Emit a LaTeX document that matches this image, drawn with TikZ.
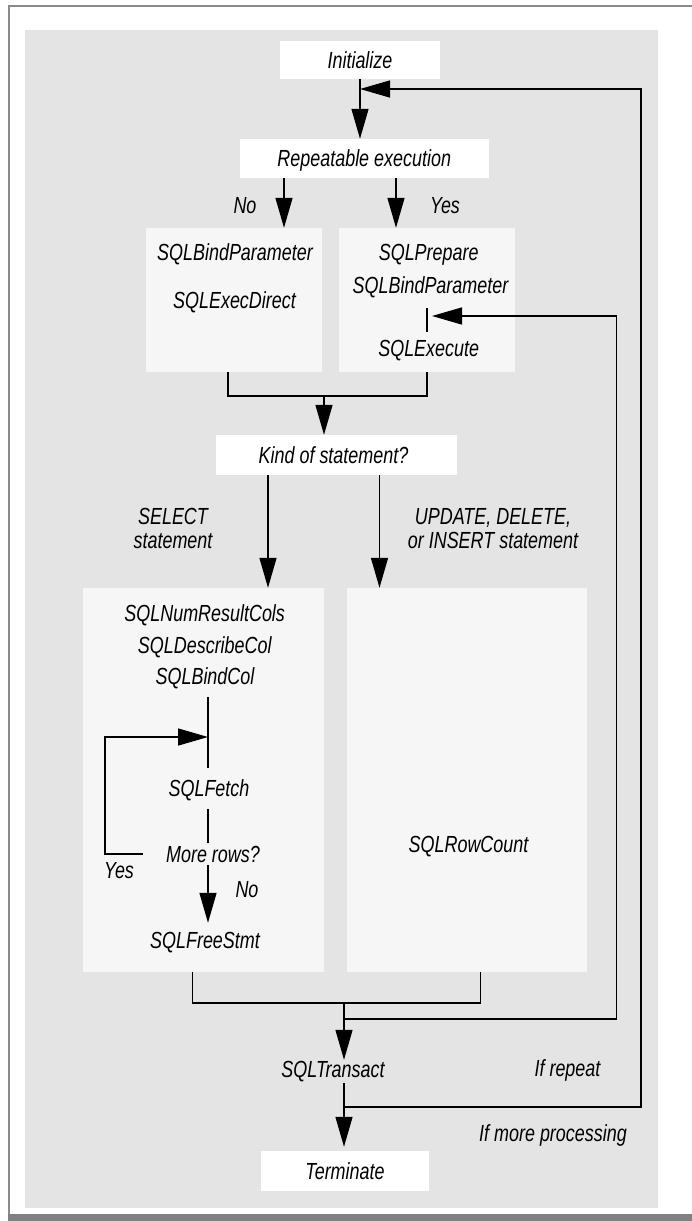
\documentclass[tikz,border=0pt]{standalone}
\usepackage{fontspec}
\setmainfont{Liberation Sans}[FakeStretch=0.77]
\usetikzlibrary{arrows.meta}

\definecolor{bggray}{HTML}{E4E4E4}
\definecolor{panelgray}{HTML}{F6F6F6}
\definecolor{framegray}{HTML}{8A8A8A}
\definecolor{bargray}{HTML}{808080}

\begin{document}
\begin{tikzpicture}[x=1pt,y=-1pt,
  lbl/.style={inner sep=0pt,anchor=base,text height=17pt,text depth=5pt,
    font=\fontsize{23.3}{25}\selectfont\itshape},
  whitebox/.style={fill=white,draw=none,inner sep=0pt,text height=16.7pt,text depth=0pt,
    font=\fontsize{23.3}{25}\selectfont\itshape},
  panel/.style={fill=panelgray,draw=none,inner sep=0pt},
  conn/.style={line width=1.4pt,draw=black},
  arr/.style={conn,-{Triangle[length=30pt,width=17pt]}}
]
% page and frame
\useasboundingbox (0,0) rectangle (692,1221);
\fill[white] (0,0) rectangle (692,1221);
\fill[bggray] (25,30) rectangle (657.5,1208);
\draw[framegray,line width=2pt] (692,6) -- (9,6) -- (9,1214);
\fill[bargray] (8,1214) rectangle (692,1221);

% white step boxes
\node[whitebox,minimum width=160pt,minimum height=38pt] (init) at (360,60) {Initialize};
\node[whitebox,minimum width=248.5pt,minimum height=39pt] (rep) at (364.25,158.5) {Repeatable execution};
\node[whitebox,minimum width=241pt,minimum height=40pt] (kind) at (336.5,455) {\hspace*{-6pt}Kind of statement?};
\node[whitebox,minimum width=168pt,minimum height=40pt] (term) at (345,1171) {Terminate};

% light panels
\node[panel,minimum width=176.4pt,minimum height=144pt] (pL) at (233.8,300) {};
\node[panel,minimum width=176pt,minimum height=144pt] (pR) at (427,300) {};
\node[panel,minimum width=240.5pt,minimum height=384pt] (bL) at (203.25,780) {};
\node[panel,minimum width=240pt,minimum height=384pt] (bR) at (467,780) {};

% labels
\node[lbl] (no1) at (245,213) {No};
\node[lbl] (yes1) at (445,213) {Yes};
\node[lbl] (bp1) at (235,260) {SQLBindParameter};
\node[lbl] (exd) at (234.5,308) {SQLExecDirect};
\node[lbl] (prep) at (428.7,260) {SQLPrepare};
\node[lbl] (bp2) at (430.5,293) {SQLBindParameter};
\node[lbl] (exe) at (428.7,356) {SQLExecute};
\node[lbl] (sel1) at (173,524) {SELECT};
\node[lbl] (sel2) at (173,548) {statement};
\node[lbl] (upd1) at (493,524) {UPDATE, DELETE,};
\node[lbl] (upd2) at (493,548) {or INSERT statement};
\node[lbl] (nrc) at (204.7,621) {SQLNumResultCols};
\node[lbl] (dcol) at (204.8,653) {SQLDescribeCol};
\node[lbl,text depth=13pt] (bcol) at (205,684) {SQLBindCol};
\node[lbl,text height=28pt,text depth=13pt] (fetch) at (209,796) {SQLFetch};
\node[lbl,text height=19pt,text depth=3pt] (more) at (213,862) {More rows?};
\node[lbl] (yes2) at (119,878) {Yes};
\node[lbl] (no2) at (247,897) {No};
\node[lbl,text height=25pt] (free) at (205,948) {SQLFreeStmt};
\node[lbl] (rowc) at (468.5,852) {SQLRowCount};
\node[lbl,text height=17pt,text depth=6pt] (trans) at (333,1077) {SQLTransact};
\node[lbl] (ifrep) at (567.5,1076) {If repeat};
\node[lbl] (ifmore) at (553,1141) {If more processing};

% helper points for connectors
\coordinate (xNo) at (284,0);
\coordinate (xYes) at (396,0);
\coordinate (mL) at (228,396);
\coordinate (mR) at (427,396);
\coordinate (j1) at (324,396);
\coordinate (xSel) at (268,0);
\coordinate (xUpd) at (379.5,0);
\coordinate (mL2) at (192.4,1003);
\coordinate (mR2) at (480.6,1003);
\coordinate (j2) at (344,1003);
\coordinate (j3) at (344,1019);
\coordinate (j4) at (344,1107);
\coordinate (exTop) at (427,308);
\coordinate (exBot) at (427,332);
\coordinate (exIn) at (432,316);
\coordinate (rIn) at (616.5,316);
\coordinate (rOut) at (641,89);
\coordinate (xF) at (208,0);
\coordinate (yesEnd) at (143,854);
\coordinate (loopC) at (105,737);

% main flow
\draw[arr] (init.south) -- (init.south |- rep.north);
\draw[arr] (rep.south -| xNo) -- (pL.north -| xNo);
\draw[arr] (rep.south -| xYes) -- (pR.north -| xYes);
\draw[conn] (pL.south -| mL) -- (mL) -- (mR) -- (pR.south -| mR);
\draw[arr] (j1) -- (j1 |- kind.north);
\draw[arr] (kind.south -| xSel) -- (bL.north -| xSel);
\draw[arr] (kind.south -| xUpd) -- (bR.north -| xUpd);
\draw[conn] (bL.south -| mL2) -- (mL2) -- (mR2) -- (bR.south -| mR2);
\draw[arr] (j2) -- (j2 |- trans.north);
\draw[arr,shorten >=4pt] (trans.south -| j2) -- (j2 |- term.north);

% prepared statement re-entry
\draw[conn] (exTop) -- (exBot);
\draw[arr] (j3) -| (rIn) -- (exIn);

% outer loop back to the start
\draw[arr] (j4) -| (rOut) -- (init.south |- rOut);

% fetch loop
\draw[conn] (bcol.south -| xF) -- (xF |- fetch.north);
\draw[arr] (yesEnd) -| (loopC) -- (loopC -| xF);
\draw[conn] (fetch.south -| xF) -- (xF |- more.north);
\draw[arr] (more.south -| xF) -- (xF |- free.north);
\end{tikzpicture}
\end{document}
